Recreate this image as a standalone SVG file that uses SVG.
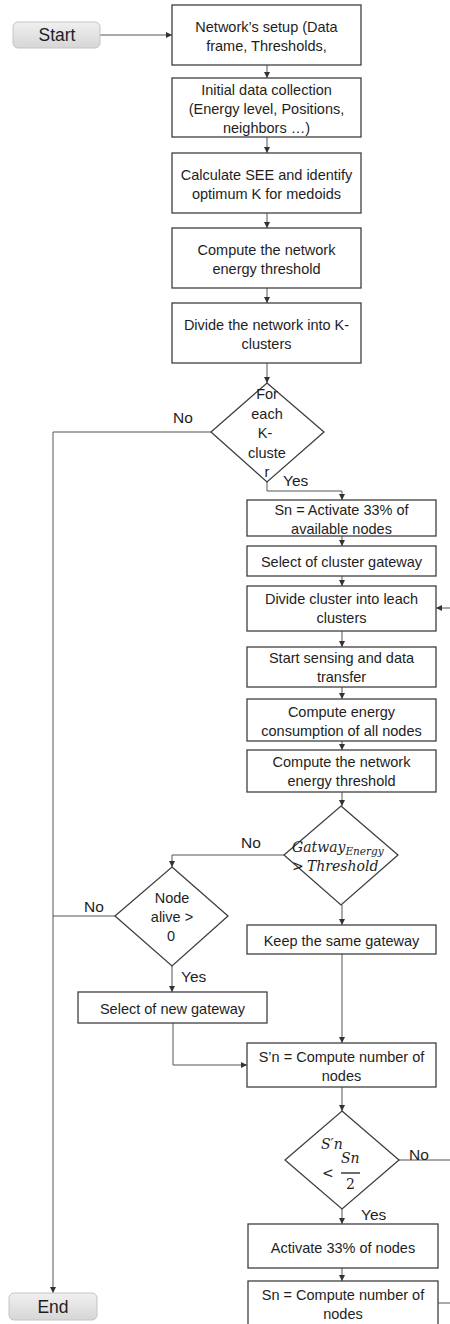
<svg xmlns="http://www.w3.org/2000/svg" width="450" height="1324" viewBox="0 0 450 1324">
  <style>
    .box { fill: #ffffff; stroke: #3f3f3f; stroke-width: 1.3; }
    .dia { fill: #ffffff; stroke: #3f3f3f; stroke-width: 1.3; }
    .term { fill: url(#termFill); stroke: #c4c4c4; stroke-width: 1; }
    .t { font-family: "Liberation Sans", Arial, sans-serif; font-size: 14.5px; fill: #1e1e1e; text-anchor: middle; dominant-baseline: central; }
    .tt { font-family: "Liberation Sans", Arial, sans-serif; font-size: 17.5px; fill: #1e1e1e; text-anchor: middle; dominant-baseline: central; }
    .lbl { font-family: "Liberation Sans", Arial, sans-serif; font-size: 15.5px; fill: #1e1e1e; dominant-baseline: central; }
    .m { font-family: "DejaVu Serif", "Liberation Serif", serif; font-style: italic; font-size: 14px; fill: #1e1e1e; dominant-baseline: central; }
    .mu { font-family: "DejaVu Serif", "Liberation Serif", serif; font-size: 14px; fill: #1e1e1e; dominant-baseline: central; }
    .c { fill: none; stroke: #555555; stroke-width: 1; }
  </style>
  <defs>
    <linearGradient id="termFill" x1="0" y1="0" x2="0" y2="1">
      <stop offset="0" stop-color="#f0f0f0"/>
      <stop offset="1" stop-color="#d6d6d6"/>
    </linearGradient>
    <marker id="ah" viewBox="0 0 10 10" refX="10" refY="5" markerWidth="6" markerHeight="6" markerUnits="userSpaceOnUse" orient="auto">
      <path d="M0,0 L10,5 L0,10 Z" fill="#333333"/>
    </marker>
  </defs>

  <!-- connectors -->
  <g id="connectors">
    <path class="c" d="M100,35 H172" marker-end="url(#ah)"/>
    <path class="c" d="M267,65 V78" marker-end="url(#ah)"/>
    <path class="c" d="M267,137 V153" marker-end="url(#ah)"/>
    <path class="c" d="M267,213 V228" marker-end="url(#ah)"/>
    <path class="c" d="M267,288 V303" marker-end="url(#ah)"/>
    <path class="c" d="M267,363 V383" marker-end="url(#ah)"/>
    <path class="c" d="M211,432 H53 V1293" marker-end="url(#ah)"/>
    <path class="c" d="M267,482 V491 H342 V500" marker-end="url(#ah)"/>
    <path class="c" d="M342,536 V546" marker-end="url(#ah)"/>
    <path class="c" d="M342,576 V586" marker-end="url(#ah)"/>
    <path class="c" d="M450,608 H436" marker-end="url(#ah)"/>
    <path class="c" d="M342,631 V647" marker-end="url(#ah)"/>
    <path class="c" d="M342,687 V699" marker-end="url(#ah)"/>
    <path class="c" d="M342,741 V750" marker-end="url(#ah)"/>
    <path class="c" d="M342,792 V806" marker-end="url(#ah)"/>
    <path class="c" d="M284,855 H172 V867" marker-end="url(#ah)"/>
    <path class="c" d="M115,916 H53"/>
    <path class="c" d="M172,966 V992" marker-end="url(#ah)"/>
    <path class="c" d="M173,1023 V1065 H247" marker-end="url(#ah)"/>
    <path class="c" d="M342,905 V925" marker-end="url(#ah)"/>
    <path class="c" d="M342,954 V1043" marker-end="url(#ah)"/>
    <path class="c" d="M342,1087 V1111" marker-end="url(#ah)"/>
    <path class="c" d="M399,1160 H450"/>
    <path class="c" d="M342,1209 V1224" marker-end="url(#ah)"/>
    <path class="c" d="M342,1268 V1281" marker-end="url(#ah)"/>
    <path class="c" d="M438,1303 H450"/>
    <text class="lbl" x="173" y="417">No</text>
    <text class="lbl" x="283" y="480">Yes</text>
    <text class="lbl" x="241" y="842">No</text>
    <text class="lbl" x="84" y="906">No</text>
    <text class="lbl" x="181" y="976">Yes</text>
    <text class="lbl" x="409" y="1154">No</text>
    <text class="lbl" x="361" y="1214">Yes</text>
  </g>

  <g id="start">
    <rect class="term" x="13" y="22" width="87" height="26" rx="5"/>
    <text class="tt" x="57" y="35">Start</text>
  </g>

  <g id="setup">
    <rect class="box" x="172" y="5" width="189" height="60"/>
    <text class="t" x="266.5" y="27">Network’s setup (Data</text>
    <text class="t" x="266.5" y="46">frame, Thresholds,</text>
  </g>

  <g id="collect">
    <rect class="box" x="172" y="78" width="189" height="59"/>
    <text class="t" x="266.5" y="90">Initial data collection</text>
    <text class="t" x="266.5" y="109">(Energy level, Positions,</text>
    <text class="t" x="266.5" y="128">neighbors …)</text>
  </g>

  <g id="see">
    <rect class="box" x="172" y="153" width="189" height="60"/>
    <text class="t" x="266.5" y="175">Calculate SEE and identify</text>
    <text class="t" x="266.5" y="194">optimum K for medoids</text>
  </g>

  <g id="threshold1">
    <rect class="box" x="172" y="228" width="189" height="60"/>
    <text class="t" x="266.5" y="250">Compute the network</text>
    <text class="t" x="266.5" y="269">energy threshold</text>
  </g>

  <g id="divide">
    <rect class="box" x="172" y="303" width="189" height="60"/>
    <text class="t" x="266.5" y="325">Divide the network into K-</text>
    <text class="t" x="266.5" y="344">clusters</text>
  </g>

  <g id="forEach">
    <polygon class="dia" points="267,383 324,432 267,482 211,432"/>
    <text class="t" x="267" y="394">For</text>
    <text class="t" x="267" y="414">each</text>
    <text class="t" x="265" y="433">K-</text>
    <text class="t" x="267" y="453">cluste</text>
    <text class="t" x="267" y="472">r</text>
  </g>

  <g id="activate">
    <rect class="box" x="247" y="500" width="189" height="36"/>
    <text class="t" x="341.5" y="510">Sn = Activate 33% of</text>
    <text class="t" x="341.5" y="529">available nodes</text>
  </g>

  <g id="gateway">
    <rect class="box" x="247" y="546" width="189" height="30"/>
    <text class="t" x="341.5" y="562">Select of cluster gateway</text>
  </g>

  <g id="leach">
    <rect class="box" x="247" y="586" width="189" height="45"/>
    <text class="t" x="341.5" y="599">Divide cluster into leach</text>
    <text class="t" x="341.5" y="618">clusters</text>
  </g>

  <g id="sensing">
    <rect class="box" x="247" y="647" width="189" height="40"/>
    <text class="t" x="341.5" y="658">Start sensing and data</text>
    <text class="t" x="341.5" y="677">transfer</text>
  </g>

  <g id="consumption">
    <rect class="box" x="247" y="699" width="189" height="42"/>
    <text class="t" x="341.5" y="712">Compute energy</text>
    <text class="t" x="341.5" y="731">consumption of all nodes</text>
  </g>

  <g id="threshold2">
    <rect class="box" x="247" y="750" width="189" height="42"/>
    <text class="t" x="341.5" y="762">Compute the network</text>
    <text class="t" x="341.5" y="781">energy threshold</text>
  </g>

  <g id="gwCheck">
    <polygon class="dia" points="341,806 398,855 341,905 284,855"/>
    <text class="m" x="292" y="847">Gatway<tspan font-size="10.5" dy="4">Energy</tspan></text>
    <text class="mu" x="292" y="866">&gt;</text>
    <text class="m" x="307" y="866">Threshold</text>
  </g>

  <g id="alive">
    <polygon class="dia" points="172,867 228,916 172,966 115,916"/>
    <text class="t" x="172" y="898">Node</text>
    <text class="t" x="172" y="917">alive &gt;</text>
    <text class="t" x="171" y="936">0</text>
  </g>

  <g id="keep">
    <rect class="box" x="247" y="925" width="189" height="29"/>
    <text class="t" x="341.5" y="941">Keep the same gateway</text>
  </g>

  <g id="newGateway">
    <rect class="box" x="78" y="992" width="189" height="31"/>
    <text class="t" x="172.5" y="1009">Select of new gateway</text>
  </g>

  <g id="countNodes">
    <rect class="box" x="247" y="1043" width="189" height="44"/>
    <text class="t" x="341.5" y="1057">S’n = Compute number of</text>
    <text class="t" x="341.5" y="1076">nodes</text>
  </g>

  <g id="ratioCheck">
    <polygon class="dia" points="342,1111 399,1160 342,1209 285,1160"/>
    <text class="m" x="321" y="1144">S′n</text>
    <text class="mu" x="322" y="1173">&lt;</text>
    <text class="m" x="341" y="1158">Sn</text>
    <line x1="341" y1="1173" x2="360" y2="1173" stroke="#1e1e1e" stroke-width="1.3"/>
    <text class="mu" x="350.5" y="1184" text-anchor="middle">2</text>
  </g>

  <g id="reactivate">
    <rect class="box" x="248" y="1224" width="190" height="44"/>
    <text class="t" x="343" y="1248">Activate 33% of nodes</text>
  </g>

  <g id="recount">
    <rect class="box" x="248" y="1281" width="190" height="50"/>
    <text class="t" x="343" y="1295">Sn = Compute number of</text>
    <text class="t" x="343" y="1314">nodes</text>
  </g>

  <g id="end">
    <rect class="term" x="9" y="1293" width="88" height="27" rx="5"/>
    <text class="tt" x="53" y="1307">End</text>
  </g>
</svg>
